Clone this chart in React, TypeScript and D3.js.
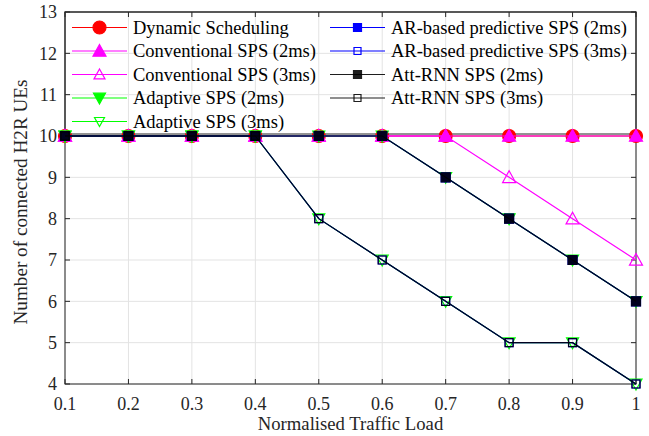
import React from 'react'
import * as d3 from 'd3'

// traffic load on the x axis
const loads = [0.1, 0.2, 0.3, 0.4, 0.5, 0.6, 0.7, 0.8, 0.9, 1]
const xTicks = [0.1, 0.2, 0.3, 0.4, 0.5, 0.6, 0.7, 0.8, 0.9, 1]
const yTicks = [4, 5, 6, 7, 8, 9, 10, 11, 12, 13]

// connected H2R UEs per scheme
const dynamicScheduling = [10, 10, 10, 10, 10, 10, 10, 10, 10, 10]
const conventional2ms = [10, 10, 10, 10, 10, 10, 10, 10, 10, 10]
const conventional3ms = [10, 10, 10, 10, 10, 10, 10, 9, 8, 7]
const adaptive2ms = [10, 10, 10, 10, 10, 10, 9, 8, 7, 6]
const adaptive3ms = [10, 10, 10, 10, 8, 7, 6, 5, 5, 4]
const arPredictive2ms = [10, 10, 10, 10, 10, 10, 9, 8, 7, 6]
const arPredictive3ms = [10, 10, 10, 10, 8, 7, 6, 5, 5, 4]
const attRnn2ms = [10, 10, 10, 10, 10, 10, 9, 8, 7, 6]
const attRnn3ms = [10, 10, 10, 10, 8, 7, 6, 5, 5, 4]

type Marker = 'circle' | 'triUp' | 'triDown' | 'square'

interface Series {
    name: string
    values: number[]
    color: string
    marker: Marker
    filled: boolean
    size: number
    opacity?: number
}

const series: Series[] = [
    { name: 'Dynamic Scheduling', values: dynamicScheduling, color: '#ff0000', marker: 'circle', filled: true, size: 13 },
    { name: 'Conventional SPS (2ms)', values: conventional2ms, color: '#ff00ff', marker: 'triUp', filled: true, size: 13 },
    { name: 'Conventional SPS (3ms)', values: conventional3ms, color: '#ff00ff', marker: 'triUp', filled: false, size: 13 },
    { name: 'Adaptive SPS (2ms)', values: adaptive2ms, color: '#00ff00', marker: 'triDown', filled: true, size: 12 },
    { name: 'Adaptive SPS (3ms)', values: adaptive3ms, color: '#00ff00', marker: 'triDown', filled: false, size: 12 },
    { name: 'AR-based predictive SPS (2ms)', values: arPredictive2ms, color: '#0000ff', marker: 'square', filled: true, size: 9 },
    { name: 'AR-based predictive SPS (3ms)', values: arPredictive3ms, color: '#0000ff', marker: 'square', filled: false, size: 8 },
    { name: 'Att-RNN SPS (2ms)', values: attRnn2ms, color: '#000000', marker: 'square', filled: true, size: 9, opacity: 0.88 },
    { name: 'Att-RNN SPS (3ms)', values: attRnn3ms, color: '#000000', marker: 'square', filled: false, size: 8, opacity: 0.88 },
]

const W = 649, H = 436
const margin = { left: 65, right: 13, top: 12, bottom: 52 }
const FONT = '"Liberation Serif", "Times New Roman", serif'

function markerPath(m: Marker, s: number) {
    const h = s / 2
    const p = d3.path()
    if (m === 'circle') {
        p.arc(0, 0, h, 0, Math.PI * 2)
    } else if (m === 'square') {
        p.rect(-h, -h, s, s)
    } else if (m === 'triUp') {
        p.moveTo(0, -h); p.lineTo(h, h * 0.8); p.lineTo(-h, h * 0.8); p.closePath()
    } else {
        p.moveTo(0, h); p.lineTo(h, -h * 0.8); p.lineTo(-h, -h * 0.8); p.closePath()
    }
    return p.toString()
}

const MarkerShape = ({ s, x, y, size }: { s: Series, x: number, y: number, size?: number }) => (
    <path
        d={markerPath(s.marker, size ?? s.size)}
        transform={`translate(${x},${y})`}
        fill={s.filled ? s.color : 'none'}
        stroke={s.color}
        strokeWidth={1.2}
        opacity={s.opacity ?? 1}
    />
)

const App = () => {
    const x = d3.scaleLinear().domain([0.1, 1]).range([margin.left, W - margin.right])
    const y = d3.scaleLinear().domain([4, 13]).range([H - margin.bottom, margin.top])
    const line = d3.line<number>()
        .x((_, i) => x(loads[i]))
        .y(d => y(d))

    const x0 = x.range()[0], x1 = x.range()[1]
    const y0 = y.range()[0], y1 = y.range()[1]

    // legend placement
    const legTop = y1, legBottom = 134
    const rowY = (i: number) => 27.5 + i * 23.5
    const cols = [
        { lineX0: 72, lineX1: 127, textX: 133 },
        { lineX0: 330, lineX1: 385, textX: 391 },
    ]

    return (
        <svg width={W} height={H} style={{ position: 'absolute', left: 0, top: 0, background: '#fff' }}
            fontFamily={FONT}>
            {/* grid */}
            {xTicks.map(t => (
                <line key={'gx' + t} x1={x(t)} x2={x(t)} y1={y0} y2={y1} stroke="#e3e3e3" strokeWidth={1} />
            ))}
            {yTicks.map(t => (
                <line key={'gy' + t} x1={x0} x2={x1} y1={y(t)} y2={y(t)} stroke="#e3e3e3" strokeWidth={1} />
            ))}

            {/* axes box with inward ticks */}
            <rect x={x0} y={y1} width={x1 - x0} height={y0 - y1} fill="none" stroke="#262626" strokeWidth={1} />
            {xTicks.map(t => (
                <g key={'tx' + t}>
                    <line x1={x(t)} x2={x(t)} y1={y0} y2={y0 - 5} stroke="#262626" />
                    <line x1={x(t)} x2={x(t)} y1={y1} y2={y1 + 5} stroke="#262626" />
                    <text x={x(t)} y={410} textAnchor="middle" fontSize={18} fill="#262626">{t}</text>
                </g>
            ))}
            {yTicks.map(t => (
                <g key={'ty' + t}>
                    <line x1={x0} x2={x0 + 5} y1={y(t)} y2={y(t)} stroke="#262626" />
                    <line x1={x1} x2={x1 - 5} y1={y(t)} y2={y(t)} stroke="#262626" />
                    <text x={57} y={y(t)} dy="0.35em" textAnchor="end" fontSize={18} fill="#262626">{t}</text>
                </g>
            ))}

            <text x={(x0 + x1) / 2} y={430} textAnchor="middle" fontSize={18.7} fill="#262626">Normalised Traffic Load</text>
            <text transform={`translate(27,${(y0 + y1) / 2 + 4}) rotate(-90)`} textAnchor="middle" fontSize={19.2} fill="#262626">
                Number of connected H2R UEs
            </text>

            {/* legend box */}
            <rect x={x0} y={legTop} width={x1 - x0} height={legBottom - legTop} fill="none" stroke="#262626" strokeWidth={1} />
            {series.map((s, i) => {
                const c = cols[i < 5 ? 0 : 1]
                const ry = rowY(i < 5 ? i : i - 5)
                const mx = (c.lineX0 + c.lineX1) / 2
                const legSize = s.marker === 'square' ? s.size - 1 : s.size - (s.filled ? 0 : 2)
                return (
                    <g key={'leg' + i}>
                        <line x1={c.lineX0} x2={c.lineX1} y1={ry} y2={ry} stroke={s.color} strokeWidth={1.2} opacity={s.opacity ?? 1} />
                        <MarkerShape s={s} x={mx} y={ry} size={legSize} />
                        <text x={c.textX} y={ry} dy="0.35em" fontSize={18.5} fill="#000">{s.name}</text>
                    </g>
                )
            })}

            {/* data */}
            {series.map((s, i) => (
                <g key={'s' + i}>
                    <path d={line(s.values) ?? ''} fill="none" stroke={s.color} strokeWidth={1.2} opacity={s.opacity ?? 1} />
                    {s.values.map((v, j) => (
                        <MarkerShape key={j} s={s} x={x(loads[j])} y={y(v)} />
                    ))}
                </g>
            ))}
        </svg>
    )
}

export default App
